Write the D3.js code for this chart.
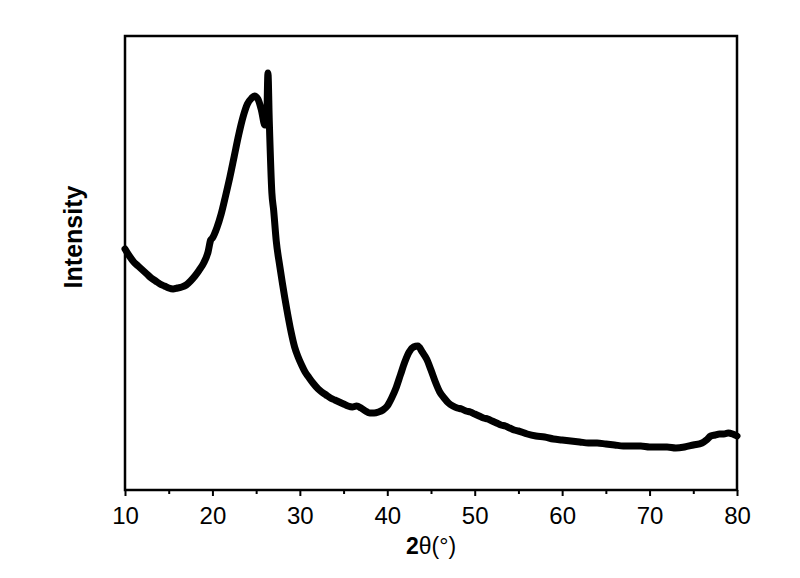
<!DOCTYPE html>
<html>
<head>
<meta charset="utf-8">
<script src="https://cdn.jsdelivr.net/npm/d3@7"></script>
<style>
  body { margin: 0; background: #fff; }
  svg { display: block; }
</style>
</head>
<body>
<svg id="chart" width="800" height="578"></svg>
<script>
// 2θ (degrees) and relative intensity (arbitrary units)
const twoTheta = [
  10.0, 10.5, 11.0, 11.5, 12.0, 12.5, 13.0, 13.5, 14.0, 14.5,
  15.0, 15.5, 16.0, 16.5, 17.0, 17.5, 18.0, 18.5, 19.0, 19.5,
  19.8, 20.0, 20.5, 21.0, 21.5, 22.0, 22.5, 23.0, 23.5, 24.0,
  24.5, 24.8, 25.2, 25.6, 26.0, 26.2, 26.35, 26.5, 26.8, 27.0,
  27.3, 27.7, 28.0, 28.5, 29.0, 29.4, 29.8, 30.2, 30.6, 31.0, 31.5,
  32.1, 32.5, 33.0, 33.5, 34.0, 34.5, 35.0, 35.5, 36.0, 36.5,
  37.0, 37.5, 38.0, 38.5, 39.0, 39.5, 40.0, 40.5, 41.0, 41.5,
  42.0, 42.5, 43.0, 43.5, 44.0, 44.5, 45.0, 45.5, 46.0, 46.5,
  47.0, 47.5, 48.0, 48.5, 49.0, 49.5, 50.0, 50.5, 51.0, 51.5, 52.0, 52.5, 53.0, 53.5, 54.0, 54.5, 55.0,
  56.0, 57.0, 58.0, 59.0, 60.0, 61.0, 62.0, 63.0, 64.0, 65.0,
  66.0, 67.0, 68.0, 69.0, 70.0, 71.0, 72.0, 73.0, 74.0, 75.0,
  76.0, 76.5, 77.0, 77.5, 78.0, 78.5, 79.0, 79.5, 80.0
];
const intensity = [
  241, 234, 228, 224, 220, 216, 212, 209, 206, 204,
  202, 201, 202, 203, 205, 209, 214, 220, 227, 238,
  250, 252, 262, 276, 294, 313, 334, 355, 373, 386,
  392, 394, 391, 380, 365, 368, 417, 370, 297, 280,
  249, 224, 207, 181, 158, 143, 133, 125, 118, 113, 107,
  101, 98, 95, 92, 90, 88, 86, 84, 83, 84,
  82, 79, 77, 77, 78, 80, 84, 92, 102, 115,
  128, 138, 143, 144, 138, 131, 120, 108, 98, 92,
  87, 84, 82, 81, 79, 78, 76, 74, 72, 71, 69, 67, 65, 64, 62, 60, 59,
  56, 54, 53, 51, 50, 49, 48, 47, 47, 46,
  45, 44, 44, 44, 43, 43, 43, 42, 43, 45,
  47, 50, 54, 55, 56, 56, 57, 56, 54
];
const xTicks = [10, 20, 30, 40, 50, 60, 70, 80];
const xMinorTicks = [15, 25, 35, 45, 55, 65, 75];
const xTitleBold = "2";
const xTitleRest = "θ(°)";
const yTitle = "Intensity";

const data = twoTheta.map((t, i) => ({ t, v: intensity[i] }));

const svg = d3.select("#chart");
const mLeft = 125, mRight = 737, mTop = 36, mBottom = 490;

const x = d3.scaleLinear().domain([10, 80]).range([mLeft, mRight]);
const y = d3.scaleLinear().domain([0, 454]).range([mBottom, mTop]);

// curve
svg.append("path")
  .datum(data)
  .attr("fill", "none")
  .attr("stroke", "#000")
  .attr("stroke-width", 7)
  .attr("stroke-linejoin", "round")
  .attr("stroke-linecap", "round")
  .attr("d", d3.line().curve(d3.curveMonotoneX).x(d => x(d.t)).y(d => y(d.v)));

// frame
svg.append("rect")
  .attr("x", mLeft).attr("y", mTop)
  .attr("width", mRight - mLeft).attr("height", mBottom - mTop)
  .attr("fill", "none").attr("stroke", "#000").attr("stroke-width", 2.5);

// x axis
const xAxis = d3.axisBottom(x).tickValues(xTicks).tickSize(6).tickSizeOuter(0)
  .tickFormat(d3.format("d"));
const gx = svg.append("g").attr("transform", `translate(0,${mBottom})`).call(xAxis);
gx.select(".domain").remove();
gx.selectAll(".tick line").attr("stroke", "#000").attr("stroke-width", 2);
gx.selectAll(".tick text")
  .attr("fill", "#000")
  .attr("y", 34).attr("dy", null)
  .style("font-family", "'Liberation Sans', Arial, sans-serif")
  .style("font-size", "24px");

const gxm = svg.append("g").attr("transform", `translate(0,${mBottom})`)
  .call(d3.axisBottom(x).tickValues(xMinorTicks).tickSize(4).tickSizeOuter(0).tickFormat(""));
gxm.select(".domain").remove();
gxm.selectAll(".tick line").attr("stroke", "#000").attr("stroke-width", 2);

// x title
const xt = svg.append("text")
  .attr("x", (mLeft + mRight) / 2).attr("y", 554)
  .attr("text-anchor", "middle")
  .style("font-family", "'Liberation Sans', Arial, sans-serif")
  .style("font-size", "23px")
  .attr("fill", "#000");
xt.append("tspan").attr("font-weight", "bold").text(xTitleBold);
xt.append("tspan").text(xTitleRest);

// y title
svg.append("text")
  .attr("transform", `translate(82,${(mTop + mBottom) / 2 - 26}) rotate(-90)`)
  .attr("text-anchor", "middle")
  .style("font-family", "'Liberation Sans', Arial, sans-serif")
  .style("font-size", "25px")
  .style("font-weight", "bold")
  .attr("fill", "#000")
  .text(yTitle);
</script>
</body>
</html>
